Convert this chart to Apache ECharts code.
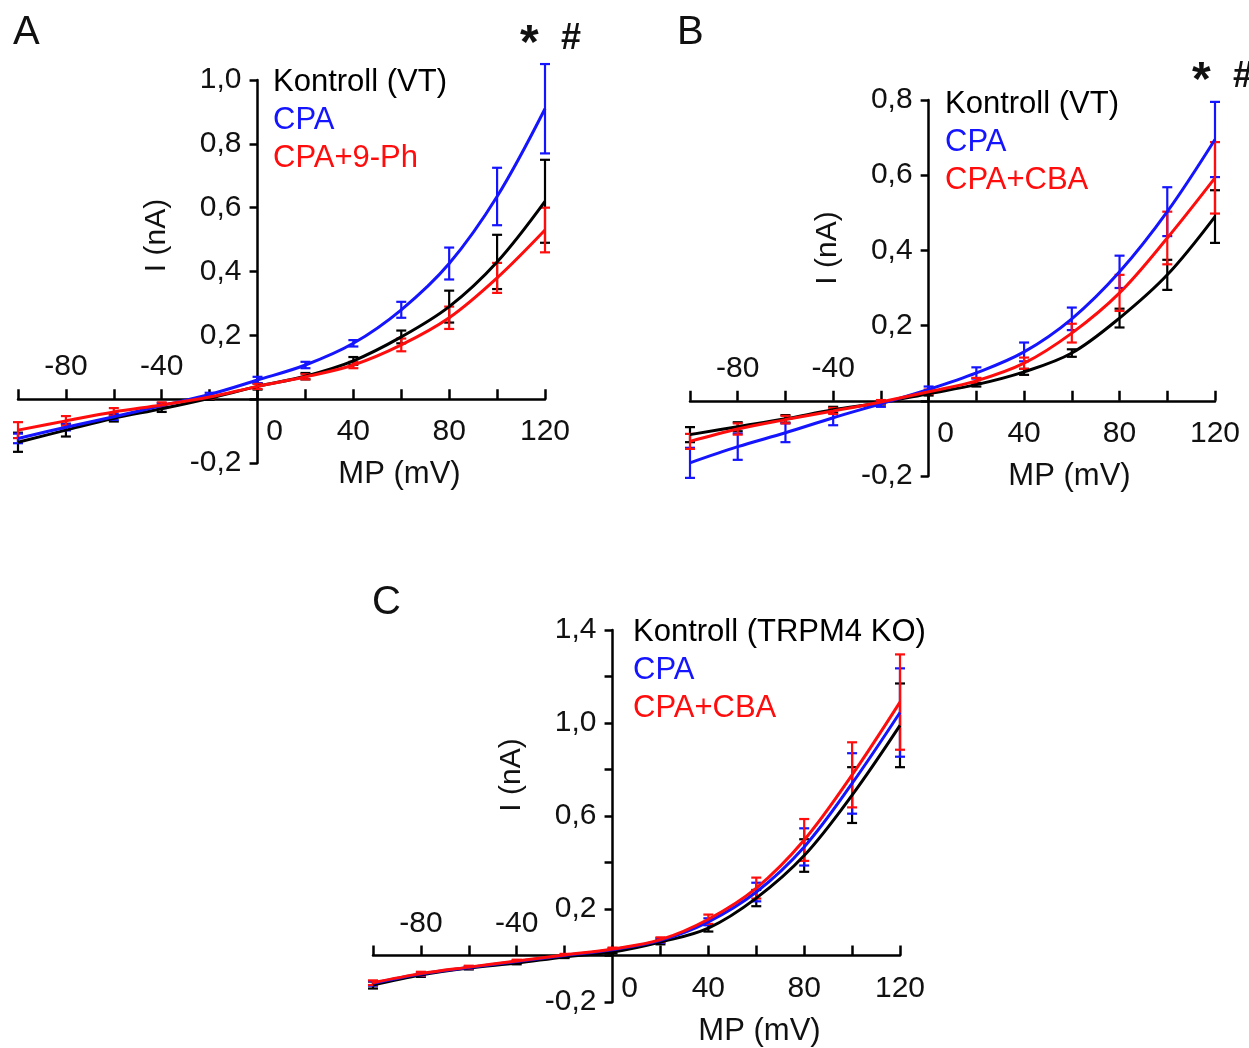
<!DOCTYPE html>
<html>
<head>
<meta charset="utf-8">
<script src="https://cdn.jsdelivr.net/npm/echarts@6/dist/echarts.min.js"></script>
<style>
  html, body { margin: 0; padding: 0; background: #fff; }
  #chart { width: 1249px; height: 1048px; }
</style>
</head>
<body>
<div id="chart"></div>
<script>
// membrane potential steps (mV) where the error bars sit
var mv = [-100, -80, -60, -40, -20, 0, 20, 40, 60, 80, 100, 120];

// panel A: Kontroll (VT), CPA, CPA+9-Ph  (nA)
var aKontroll    = [-0.135, -0.097, -0.06, -0.03, 0.003, 0.04, 0.072, 0.12, 0.195, 0.29, 0.43, 0.62];
var aKontrollErr = [0.03, 0.02, 0.01, 0.01, 0.005, 0.01, 0.01, 0.012, 0.02, 0.05, 0.085, 0.13];
var aCpa         = [-0.123, -0.088, -0.055, -0.02, 0.015, 0.06, 0.107, 0.175, 0.28, 0.425, 0.635, 0.91];
var aCpaErr      = [0.015, 0.01, 0.01, 0.008, 0.005, 0.01, 0.01, 0.01, 0.025, 0.05, 0.09, 0.14];
var aPh          = [-0.097, -0.068, -0.04, -0.018, 0.007, 0.04, 0.07, 0.107, 0.17, 0.255, 0.38, 0.53];
var aPhErr       = [0.025, 0.015, 0.012, 0.008, 0.005, 0.008, 0.008, 0.01, 0.02, 0.035, 0.047, 0.07];

// panel B: Kontroll (VT), CPA, CPA+CBA
var bKontroll    = [-0.09, -0.069, -0.048, -0.024, -0.005, 0.019, 0.043, 0.077, 0.127, 0.22, 0.335, 0.49];
var bKontrollErr = [0.02, 0.012, 0.01, 0.008, 0.005, 0.005, 0.005, 0.008, 0.01, 0.025, 0.04, 0.07];
var bCpa         = [-0.165, -0.122, -0.085, -0.045, -0.008, 0.03, 0.074, 0.13, 0.218, 0.343, 0.503, 0.695];
var bCpaErr      = [0.04, 0.035, 0.025, 0.02, 0.008, 0.008, 0.015, 0.025, 0.03, 0.043, 0.065, 0.1];
var bCba         = [-0.108, -0.075, -0.05, -0.027, -0.003, 0.024, 0.053, 0.1, 0.18, 0.287, 0.433, 0.593];
var bCbaErr      = [0.02, 0.015, 0.01, 0.008, 0.005, 0.006, 0.008, 0.015, 0.025, 0.048, 0.07, 0.095];

// panel C: Kontroll (TRPM4 KO), CPA, CPA+CBA
var cKontroll    = [-0.127, -0.084, -0.054, -0.032, -0.006, 0.015, 0.058, 0.118, 0.247, 0.43, 0.69, 0.99];
var cKontrollErr = [0.015, 0.008, 0.006, 0.006, 0.005, 0.006, 0.01, 0.015, 0.035, 0.07, 0.12, 0.18];
var cCpa         = [-0.12, -0.08, -0.052, -0.026, 0, 0.025, 0.065, 0.145, 0.273, 0.467, 0.74, 1.045];
var cCpaErr      = [0.01, 0.008, 0.006, 0.006, 0.005, 0.006, 0.01, 0.015, 0.04, 0.08, 0.13, 0.19];
var cCba         = [-0.117, -0.078, -0.05, -0.024, 0.002, 0.028, 0.068, 0.156, 0.29, 0.497, 0.777, 1.09];
var cCbaErr      = [0.01, 0.008, 0.006, 0.006, 0.005, 0.006, 0.01, 0.02, 0.045, 0.09, 0.14, 0.205];

// y-axis tops of the three panels
var yMax = [1.0, 0.8, 1.4];

var FONT = "'Liberation Sans', Arial, sans-serif";
var BLACK = '#000000', BLUE = '#1414ff', RED = '#ff0d0d';
var XMIN = -100, XMAX = 120, YMIN = -0.2;

var grids = [
  { left: 18, top: 80, width: 527, height: 383 },
  { left: 690, top: 100, width: 525, height: 376 },
  { left: 373, top: 630, width: 527, height: 372 }
];

function pts(vals) {
  return mv.map(function (v, i) { return [v, vals[i]]; });
}
function bars(vals, errs) {
  return mv.map(function (v, i) { return [v, vals[i] - errs[i], vals[i] + errs[i]]; });
}

function lineSeries(name, vals, color, idx) {
  return {
    name: name, type: 'line', smooth: 0.35, showSymbol: false,
    xAxisIndex: idx * 2, yAxisIndex: idx,
    lineStyle: { color: color, width: 3 },
    itemStyle: { color: color },
    data: pts(vals), z: 3
  };
}
function errSeries(name, vals, errs, color, idx) {
  return {
    name: name, type: 'custom', xAxisIndex: idx * 2, yAxisIndex: idx,
    encode: { x: 0, y: [1, 2] }, z: 3,
    renderItem: function (params, api) {
      var x = api.value(0);
      var lo = api.coord([x, api.value(1)]);
      var hi = api.coord([x, api.value(2)]);
      var w = 5;
      var st = { stroke: color, lineWidth: 2.2 };
      return {
        type: 'group',
        children: [
          { type: 'line', shape: { x1: lo[0], y1: lo[1], x2: hi[0], y2: hi[1] }, style: st },
          { type: 'line', shape: { x1: lo[0] - w, y1: lo[1], x2: lo[0] + w, y2: lo[1] }, style: st },
          { type: 'line', shape: { x1: hi[0] - w, y1: hi[1], x2: hi[0] + w, y2: hi[1] }, style: st }
        ]
      };
    },
    data: bars(vals, errs)
  };
}

// axes cross at 0/0: shift them into the grid with a (negative) offset
function xAxes(idx, namePad) {
  var g = grids[idx];
  var zeroUp = g.height * (0 - YMIN) / (yMax[idx] - YMIN);
  return [{
    type: 'value', gridIndex: idx, min: XMIN, max: XMAX, interval: 20,
    position: 'bottom', offset: -zeroUp,
    axisLine: { onZero: false, lineStyle: { color: '#000', width: 2.5 } },
    axisTick: { inside: true, length: 10, lineStyle: { color: '#000', width: 2.5 } },
    splitLine: { show: false },
    axisLabel: {
      margin: 18, color: '#111', fontSize: 30, fontFamily: FONT, showMinLabel: true, showMaxLabel: true,
      formatter: function (v) {
        if (v === 0) return '{z|0}';
        return (v > 0 && v % 40 === 0) ? String(v) : '';
      },
      rich: { z: { fontSize: 30, fontFamily: FONT, color: '#111', padding: [0, 0, 0, 34] } }
    },
    name: 'MP (mV)', nameLocation: 'middle', nameGap: 60,
    nameTextStyle: { fontSize: 31, fontFamily: FONT, color: '#111', padding: [0, 0, 0, namePad] }
  }, {
    type: 'value', gridIndex: idx, min: XMIN, max: XMAX, interval: 20,
    position: 'top', offset: -(g.height - zeroUp),
    axisLine: { show: false, onZero: false },
    axisTick: { show: false },
    splitLine: { show: false },
    axisLabel: {
      margin: 17, color: '#111', fontSize: 30, fontFamily: FONT,
      formatter: function (v) { return (v < 0 && v % 40 === 0) ? String(v) : ''; }
    }
  }];
}

function yAxis(idx, every, namePad) {
  var g = grids[idx];
  var zeroRight = g.width * (0 - XMIN) / (XMAX - XMIN);
  return {
    type: 'value', gridIndex: idx, min: YMIN, max: yMax[idx], interval: 0.2,
    position: 'left', offset: -zeroRight,
    axisLine: { show: true, onZero: false, lineStyle: { color: '#000', width: 2.5 } },
    axisTick: { show: true, length: 8, lineStyle: { color: '#000', width: 2.5 } },
    splitLine: { show: false },
    axisLabel: {
      margin: 16, color: '#111', fontSize: 30, fontFamily: FONT, showMinLabel: true, showMaxLabel: true,
      formatter: function (v) {
        if (Math.abs(v) < 1e-9) return '';
        var k = Math.round((v - YMIN) / 0.2);
        if (k % every !== 0) return '';
        return v.toFixed(1).replace('.', ',');
      }
    },
    name: 'I (nA)', nameLocation: 'middle', nameGap: 86,
    nameTextStyle: { fontSize: 30, fontFamily: FONT, color: '#111', padding: [0, 0, 0, namePad] }
  };
}

function legend(left, top, names) {
  var cols = [BLACK, BLUE, RED];
  return {
    left: left, top: top, orient: 'vertical', icon: 'none',
    itemWidth: 0, itemHeight: 0, itemGap: 7, selectedMode: false,
    textStyle: { fontSize: 31, fontFamily: FONT },
    data: names.map(function (n, i) { return { name: n, textStyle: { color: cols[i], fontSize: 31, fontFamily: FONT } }; })
  };
}

var letterStyle = { fontSize: 40, fontWeight: 'normal', fontFamily: FONT, color: '#111' };
var starStyle = { fontSize: 48, fontWeight: 'bold', fontFamily: FONT, color: '#111' };
var hashStyle = { fontSize: 36, fontWeight: 'bold', fontFamily: FONT, color: '#111' };

var option = {
  backgroundColor: '#fff',
  animation: false,
  title: [
    { text: 'A', left: 8, top: 8, textStyle: letterStyle },
    { text: 'B', left: 672, top: 8, textStyle: letterStyle },
    { text: 'C', left: 367, top: 578, textStyle: letterStyle },
    { text: '*', left: 515, top: 16, textStyle: starStyle },
    { text: '#', left: 556, top: 16, textStyle: hashStyle },
    { text: '*', left: 1187, top: 53, textStyle: starStyle },
    { text: '#', left: 1228, top: 54, textStyle: hashStyle }
  ],
  legend: [
    legend(263, 62, ['Kontroll (VT)', 'CPA', 'CPA+9-Ph']),
    legend(935, 84, ['Kontroll (VT)', 'CPA', 'CPA+CBA']),
    legend(623, 612, ['Kontroll (TRPM4 KO)', 'CPA', 'CPA+CBA'])
  ],
  grid: grids.map(function (g) {
    return { left: g.left, top: g.top, width: g.width, height: g.height, containLabel: false, outerBoundsMode: 'none' };
  }),
  xAxis: [].concat(xAxes(0, 236), xAxes(1, 234), xAxes(2, 246)),
  yAxis: [yAxis(0, 1, 72), yAxis(1, 1, 80), yAxis(2, 2, 82)],
  series: [
    lineSeries('Kontroll (VT)', aKontroll, BLACK, 0),
    errSeries('Kontroll (VT)', aKontroll, aKontrollErr, BLACK, 0),
    lineSeries('CPA', aCpa, BLUE, 0),
    errSeries('CPA', aCpa, aCpaErr, BLUE, 0),
    lineSeries('CPA+9-Ph', aPh, RED, 0),
    errSeries('CPA+9-Ph', aPh, aPhErr, RED, 0),

    lineSeries('Kontroll (VT)', bKontroll, BLACK, 1),
    errSeries('Kontroll (VT)', bKontroll, bKontrollErr, BLACK, 1),
    lineSeries('CPA', bCpa, BLUE, 1),
    errSeries('CPA', bCpa, bCpaErr, BLUE, 1),
    lineSeries('CPA+CBA', bCba, RED, 1),
    errSeries('CPA+CBA', bCba, bCbaErr, RED, 1),

    lineSeries('Kontroll (TRPM4 KO)', cKontroll, BLACK, 2),
    errSeries('Kontroll (TRPM4 KO)', cKontroll, cKontrollErr, BLACK, 2),
    lineSeries('CPA', cCpa, BLUE, 2),
    errSeries('CPA', cCpa, cCpaErr, BLUE, 2),
    lineSeries('CPA+CBA', cCba, RED, 2),
    errSeries('CPA+CBA', cCba, cCbaErr, RED, 2)
  ]
};

var myChart = echarts.init(document.getElementById('chart'));
myChart.setOption(option);
</script>
</body>
</html>
